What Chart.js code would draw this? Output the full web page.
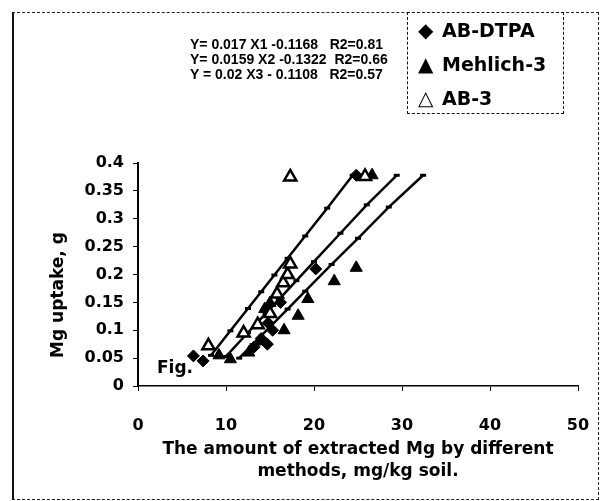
<!DOCTYPE html>
<html>
<head>
<meta charset="utf-8">
<script src="https://cdn.jsdelivr.net/npm/chart.js@4.4.1/dist/chart.umd.min.js"></script>
<style>
  body { margin: 0; background: #fff; }
  #wrap { position: relative; width: 600px; height: 501px; overflow: hidden; }
  #frame { position: absolute; left: 12px; top: 12px; width: 584px; height: 486px;
           border: 1px dashed #222; border-left: 2px solid #111; }
  #legend { position: absolute; left: 407px; top: 12px; width: 155px; height: 100px;
            border: 1px dashed #111; background: #fff;
            font: bold 19px "DejaVu Sans", sans-serif; color: #000; }
  #legend div { position: absolute; left: 10px; white-space: nowrap; }
  #legend span { display: inline-block; width: 24px; font-size: 20px; }
  #eqs { position: absolute; left: 190px; top: 37px;
         font: bold 14px "Liberation Sans", Arial, sans-serif; line-height: 15px;
         white-space: pre; color: #000; }
  #ytitle { position: absolute; left: 57px; top: 295px; transform: translate(-50%, -50%) rotate(-90deg);
            font: bold 17px "DejaVu Sans", sans-serif; white-space: nowrap; }
  #fig { position: absolute; left: 157px; top: 357px; font: bold 17px "DejaVu Sans", sans-serif; }
</style>
</head>
<body>
<div id="wrap">
  <canvas id="grafica" width="600" height="501"></canvas>
  <div id="frame"></div>
  <div id="eqs">Y= 0.017 X1 -0.1168   R2=0.81
Y= 0.0159 X2 -0.1322  R2=0.66
Y = 0.02 X3 - 0.1108   R2=0.57</div>
  <div id="legend">
    <div style="top:5px"><span>◆</span>AB-DTPA</div>
    <div style="top:39px"><span>▲</span>Mehlich-3</div>
    <div style="top:73px"><span>△</span>AB-3</div>
  </div>
  <div id="ytitle">Mg uptake, g</div>
  <div id="fig">Fig.</div>
</div>
<script>
// DATOS
const abDtpaX = [6.3, 7.4, 13.2, 14.0, 14.7, 15.3, 14.8, 16.2, 20.2, 24.8];
const abDtpaY = [0.054, 0.045, 0.070, 0.085, 0.075, 0.100, 0.113, 0.150, 0.210, 0.378];

const mehlichX = [9.2, 10.5, 12.6, 13.8, 15.0, 14.4, 16.6, 18.2, 19.3, 22.3, 24.8, 26.6];
const mehlichY = [0.055, 0.048, 0.060, 0.080, 0.149, 0.138, 0.100, 0.126, 0.156, 0.188, 0.212, 0.378];

const ab3X = [8.0, 12.0, 13.6, 15.0, 15.8, 16.5, 17.0, 17.3, 17.3, 25.8];
const ab3Y = [0.072, 0.095, 0.110, 0.130, 0.165, 0.185, 0.200, 0.219, 0.375, 0.376];

// lineas de ajuste
const ab3FitX = [8.3, 10.5, 12.5, 14, 15.5, 17, 19, 21.5, 24.4];
const ab3FitY = [0.055, 0.099, 0.139, 0.169, 0.199, 0.229, 0.269, 0.319, 0.378];
const dtpaFitX = [10.0, 12.5, 14.5, 16, 18, 20, 23, 26, 29.4];
const dtpaFitY = [0.053, 0.096, 0.130, 0.155, 0.189, 0.223, 0.274, 0.325, 0.378];
const mehlichFitX = [11.5, 13, 15, 17, 19, 22, 25, 28.5, 32.4];
const mehlichFitY = [0.050, 0.074, 0.106, 0.138, 0.170, 0.218, 0.265, 0.321, 0.378];

const xTickLabels = ["0", "10", "20", "30", "40", "50"];
const yTickLabels = ["0", "0.05", "0.1", "0.15", "0.2", "0.25", "0.3", "0.35", "0.4"];

const toPoints = (xs, ys) => xs.map((x, i) => ({ x: x, y: ys[i] }));

const fitLine = (xs, ys) => ({
    data: toPoints(xs, ys),
    showLine: true,
    borderColor: "#000",
    borderWidth: 2.5,
    pointStyle: "line",
    pointRadius: 3,
    pointBorderWidth: 3,
    pointBorderColor: "#000",
    order: 2
});

const tickFont = { family: "DejaVu Sans", size: 16, weight: "bold" };

new Chart(document.getElementById("grafica"), {
    type: "scatter",
    data: {
        datasets: [
            fitLine(ab3FitX, ab3FitY),
            fitLine(dtpaFitX, dtpaFitY),
            fitLine(mehlichFitX, mehlichFitY),
            {
                label: "AB-DTPA",
                data: toPoints(abDtpaX, abDtpaY),
                pointStyle: "rectRot",
                pointRadius: 6,
                backgroundColor: "#000",
                borderColor: "#000",
                order: 1
            },
            {
                label: "Mehlich-3",
                data: toPoints(mehlichX, mehlichY),
                pointStyle: "triangle",
                pointRadius: 7,
                backgroundColor: "#000",
                borderColor: "#000",
                order: 1
            },
            {
                label: "AB-3",
                data: toPoints(ab3X, ab3Y),
                pointStyle: "triangle",
                pointRadius: 7,
                backgroundColor: "#fff",
                borderColor: "#000",
                borderWidth: 2.5,
                order: 0
            }
        ]
    },
    options: {
        responsive: false,
        animation: false,
        devicePixelRatio: 1,
        layout: { padding: { top: 163, right: 22, left: 0, bottom: 0 } },
        plugins: {
            legend: { display: false },
            tooltip: { enabled: false }
        },
        scales: {
            x: {
                min: 0,
                max: 50,
                afterFit: (scale) => {
                    scale.height = 115;
                    // la separacion de las etiquetas no debe estrechar el eje
                    scale.paddingLeft = 10;
                    scale.paddingRight = 10;
                },
                ticks: {
                    stepSize: 10,
                    color: "#000",
                    padding: 25,
                    maxRotation: 0,
                    font: tickFont,
                    callback: (v, i) => xTickLabels[i]
                },
                grid: { drawOnChartArea: false, drawTicks: true, tickLength: 5, color: "#000" },
                border: { color: "#000", width: 1.5, dash: [5, 3] },
                title: {
                    display: true,
                    text: ["The amount of extracted Mg by different", "methods, mg/kg soil."],
                    color: "#000",
                    font: { family: "DejaVu Sans", size: 17, weight: "bold", lineHeight: 1.3 },
                    padding: { top: 4, bottom: 18 }
                }
            },
            y: {
                min: 0,
                max: 0.4,
                afterFit: (scale) => { scale.width = 138; },
                ticks: {
                    stepSize: 0.05,
                    color: "#000",
                    padding: 9,
                    font: tickFont,
                    callback: (v, i) => yTickLabels[i]
                },
                grid: { drawOnChartArea: false, drawTicks: true, tickLength: 5, color: "#000" },
                border: { color: "#000", width: 2 }
            }
        }
    }
});
</script>
</body>
</html>
